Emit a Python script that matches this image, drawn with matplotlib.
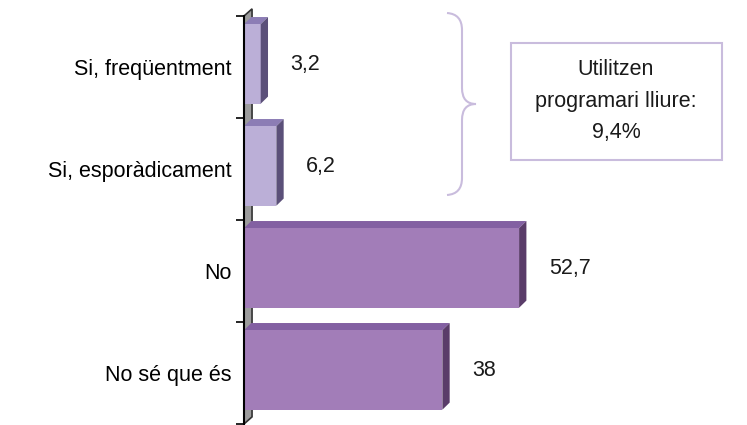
import matplotlib.pyplot as plt
import numpy as np
from matplotlib.patches import Polygon, Rectangle, PathPatch
from matplotlib.path import Path

plt.rcParams['font.family'] = ['Liberation Sans', 'DejaVu Sans']

# data (top to bottom as in the chart)
categories = ['Si, freqüentment', 'Si, esporàdicament', 'No', 'No sé que és']
values = [3.2, 6.2, 52.7, 38]
value_labels = ['3,2', '6,2', '52,7', '38']
box_text = 'Utilitzen\nprogramari lliure:\n9,4%'

light = ('#BBAFD7', '#8C7DB5', '#5B5079')   # front, top, side
dark = ('#A27DB8', '#8360A2', '#5A3C69')
styles = [light, light, dark, dark]

W, H = 747, 425
fig = plt.figure(figsize=(W / 100, H / 100), dpi=100)
xmax = 95
ax = fig.add_axes([244 / W, 1 / H, xmax * 5.22 / W, 408 / H])
ax.set_xlim(0, xmax)
ax.set_ylim(-0.5, 3.5)

ypos = np.arange(len(categories))[::-1]
dx, dy = 1.4, 0.07   # 3d depth in data units
bh = 0.78

# back wall
wall = Polygon([(0, -0.5), (0, 3.5), (dx * 1.1, 3.5 + dy), (dx * 1.1, -0.5 + dy)],
               closed=True, facecolor='#9C9C9C', edgecolor='#333333', lw=1.2,
               clip_on=False, zorder=1)
ax.add_patch(wall)

for y, v, st, lab in zip(ypos, values, styles, value_labels):
    yc = y + 0.03
    ax.barh(yc, v, height=bh, color=st[0], edgecolor='none', zorder=3)
    top = Polygon([(0, yc + bh / 2), (v, yc + bh / 2), (v + dx, yc + bh / 2 + dy),
                   (dx, yc + bh / 2 + dy)], closed=True, facecolor=st[1],
                  edgecolor='none', zorder=2, clip_on=False)
    side = Polygon([(v, yc - bh / 2), (v, yc + bh / 2), (v + dx, yc + bh / 2 + dy),
                    (v + dx, yc - bh / 2 + dy)], closed=True, facecolor=st[2],
                   edgecolor='none', zorder=3, clip_on=False)
    ax.add_patch(top)
    ax.add_patch(side)
    ax.annotate(lab, (v, y + 0.02), xytext=(21.5, 0), textcoords='offset points',
                ha='left', va='center', fontsize=15.5, color='#1a1a1a')

# axes styling
for s in ['top', 'right', 'bottom']:
    ax.spines[s].set_visible(False)
ax.spines['left'].set_linewidth(1.5)
ax.spines['left'].set_zorder(4)
ax.set_xticks([])
ax.set_yticks(np.arange(-0.5, 4.0, 1.0))
ax.set_yticklabels([])
ax.tick_params(axis='y', which='major', length=6, width=1.2, direction='out')
ax.set_yticks(ypos, minor=True)
ax.set_yticklabels(categories, minor=True, fontsize=15.5)
ax.tick_params(axis='y', which='minor', length=0, pad=9)

# brace and box (figure pixel coordinates)
def px(x, y):
    return (x / W, 1 - y / H)

bx0, bx1, bxt = 447, 462, 476
verts = [px(bx0, 13), px(bx1, 14), px(bx1, 30),
         px(bx1, 88), px(bx1, 104), px(bxt, 104),
         px(bx1, 104), px(bx1, 120), px(bx1, 178),
         px(bx1, 194), px(bx0, 195)]
codes = [Path.MOVETO, Path.CURVE3, Path.CURVE3,
         Path.LINETO, Path.CURVE3, Path.CURVE3,
         Path.CURVE3, Path.CURVE3, Path.LINETO,
         Path.CURVE3, Path.CURVE3]
brace = PathPatch(Path(verts, codes), facecolor='none', edgecolor='#C9BCDD',
                  lw=1.5, transform=fig.transFigure)
fig.patches.append(brace)

box = Rectangle(px(511, 160), 211 / W, 117 / H, facecolor='white',
                edgecolor='#C9BCDD', lw=1.5, transform=fig.transFigure)
fig.patches.append(box)
fig.text(*px(616, 101), box_text, ha='center', va='center', fontsize=15.5,
         linespacing=1.65, color='#1a1a1a')

fig.savefig('out.png', dpi=100)
